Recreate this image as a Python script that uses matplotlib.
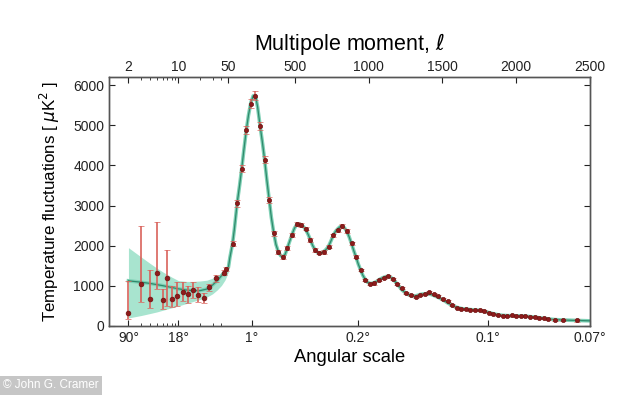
import numpy as np
import matplotlib
matplotlib.use("Agg")
import matplotlib.pyplot as plt

plt.rcParams['font.family'] = ['Liberation Sans', 'DejaVu Sans']
plt.rcParams['mathtext.fontset'] = 'dejavusans'

# low-ell points (unbinned), asymmetric errors
low_ell = [2, 3, 4, 5, 6, 7, 8, 9.5, 11.5, 13.5, 16, 19, 22.5, 26.5, 33.5, 43]
low_dl = [322, 1042, 680, 1315, 640, 1190, 660, 737, 855, 790, 905, 775, 690, 960, 1184, 1330]
low_err_lo = [150, 440, 240, 400, 220, 690, 196, 233, 223, 210, 200, 185, 130, 90, 80, 70]
low_err_hi = [800, 1450, 710, 1280, 280, 700, 340, 355, 233, 210, 200, 185, 130, 90, 80, 70]

# binned points
bin_ell = [47, 78, 109, 140, 171, 202, 233, 264, 295, 326,
           357, 388, 419, 450, 481, 512, 543, 574, 605, 636,
           667, 698, 729, 760, 791, 822, 853, 884, 915, 946,
           977, 1008, 1039, 1070, 1101, 1132, 1163, 1194, 1225, 1256,
           1287, 1318, 1349, 1380, 1411, 1442, 1473, 1504, 1535, 1566,
           1597, 1628, 1659, 1690, 1721, 1752, 1783, 1814, 1845, 1876,
           1907, 1938, 1969, 2000, 2031, 2062, 2093, 2124, 2155, 2186,
           2217, 2260, 2320, 2415]
bin_dl = [1420, 2052, 3052, 3913, 4871, 5533, 5732, 4970, 4144, 3134,
          2308, 1854, 1725, 1953, 2258, 2531, 2514, 2424, 2141, 1893,
          1829, 1844, 1978, 2258, 2382, 2489, 2365, 2060, 1730, 1397,
          1149, 1050, 1060, 1141, 1191, 1240, 1170, 1042, 935, 828,
          760, 720, 780, 785, 836, 795, 745, 683, 610, 525,
          460, 430, 413, 410, 400, 392, 368, 332, 300, 276,
          260, 255, 262, 255, 248, 246, 235, 220, 205, 190,
          162, 141, 158, 141]
bin_err = [60, 70, 80, 90, 100, 110, 110, 100, 90, 80,
           60, 50, 50, 50, 50, 50, 50, 45, 40, 40,
           40, 40, 40, 40, 40, 40, 40, 35, 35, 30,
           30, 30, 30, 30, 30, 30, 30, 30, 25, 25,
           25, 25, 25, 25, 25, 25, 25, 25, 25, 20,
           20, 20, 20, 20, 20, 20, 20, 20, 20, 20,
           20, 20, 20, 20, 20, 20, 20, 20, 20, 20,
           20, 25, 25, 30]

# best-fit model curve
model_ell = [2, 3, 4, 5, 6, 8, 10, 13, 16, 20, 25, 30, 35, 40, 45, 50, 60, 78, 90,
             109, 125, 140, 155, 171, 186, 202, 218, 233, 248, 264, 280, 295, 310,
             326, 341, 357, 372, 388, 404, 419, 435, 450, 466, 481, 497, 512, 528,
             543, 559, 574, 590, 605, 620, 636, 651, 667, 682, 698, 713, 729, 745,
             760, 775, 791, 806, 822, 837, 853, 868, 884, 899, 915, 930, 946, 961,
             977, 992, 1008, 1023, 1039, 1055, 1070, 1086, 1101, 1117, 1132, 1148,
             1163, 1179, 1194, 1210, 1225, 1241, 1256, 1272, 1287, 1303, 1318, 1334,
             1349, 1365, 1380, 1396, 1411, 1427, 1442, 1458, 1473, 1489, 1504, 1520,
             1535, 1551, 1566, 1582, 1597, 1628, 1659, 1690, 1721, 1752, 1783, 1814,
             1845, 1876, 1907, 1938, 1969, 2000, 2031, 2062, 2093, 2124, 2155, 2186,
             2217, 2260, 2320, 2415, 2500]
model_dl = [1125, 1090, 1060, 1030, 1005, 960, 925, 895, 880, 880, 920, 1020, 1130, 1250, 1360, 1460, 1700, 2052, 2400,
            3052, 3480, 3913, 4390, 4871, 5250, 5560, 5730, 5740, 5450, 5000, 4580, 4150, 3650,
            3150, 2700, 2320, 2030, 1850, 1750, 1720, 1790, 1950, 2120, 2280, 2430, 2520, 2545,
            2520, 2470, 2400, 2280, 2150, 2010, 1900, 1840, 1820, 1830, 1860, 1910, 1990, 2120,
            2250, 2350, 2420, 2470, 2480, 2440, 2350, 2220, 2050, 1880, 1710, 1540, 1390, 1260,
            1160, 1090, 1060, 1060, 1080, 1110, 1150, 1185, 1210, 1230, 1235, 1215,
            1170, 1110, 1040, 970, 900, 850, 810, 775, 755, 745, 750, 765,
            785, 795, 800, 800, 795, 780, 760, 735, 710, 680, 650, 610,
            575, 540, 510, 485, 465, 435, 418, 408, 400, 388, 365, 335,
            305, 280, 265, 258, 256, 254, 250, 244, 234, 220, 205, 190,
            175, 160, 148, 136, 128]

# cosmic variance band at low ell
band_ell = [2, 3, 4, 5, 6, 8, 10, 13, 16, 20, 25, 30, 35, 40, 45, 50, 60]
band_hi = [1950, 1720, 1560, 1440, 1350, 1220, 1130, 1110, 1110, 1120, 1140, 1190, 1240, 1300, 1380, 1500, 1720]
band_lo = [200, 260, 310, 350, 390, 450, 500, 560, 610, 660, 720, 800, 900, 1010, 1150, 1350, 1600]

top_ell = [2, 10, 50, 500, 1000, 1500, 2000, 2500]
top_labels = ['2', '10', '50', '500', '1000', '1500', '2000', '2500']
ang_ell = [2, 10, 208, 928, 1807, 2500]
ang_labels = ['90°', '18°', '1°', '0.2°', '0.1°', '0.07°']
minor_ell = [3, 4, 5, 6, 7, 8, 9, 20, 30, 40]


# log below ell=50, linear above (Planck style hybrid axis)
def fwd(x):
    x = np.asarray(x, dtype=float)
    lg = 71.5 * np.log10(np.clip(x, 1e-6, None) / 50.0)
    return np.where(x < 50, lg, 0.1476 * (x - 50))


def inv(u):
    u = np.asarray(u, dtype=float)
    return np.where(u < 0, 50.0 * 10 ** (np.minimum(u, 0) / 71.5), 50 + u / 0.1476)


fig = plt.figure(figsize=(6.35, 3.96), dpi=100)
ax = fig.add_axes([0.1717, 0.1768, 0.7575, 0.6288])
ax.set_xscale('function', functions=(fwd, inv))
ax.set_xlim(1.07, 2500)
ax.set_ylim(0, 6200)

ax.fill_between(band_ell, band_lo, band_hi, color='#a8e4cf', lw=0, zorder=1)
ax.plot(model_ell, model_dl, color='#7fd0b5', lw=2.6, zorder=2)
ax.plot(model_ell, model_dl, color='#2e8a6c', lw=0.9, zorder=2)

ax.errorbar(low_ell, low_dl, yerr=[low_err_lo, low_err_hi], fmt='o', ms=3.4,
            mew=0.5, color='#8e1b1b', mec='#6e1010', ecolor='#d9625b',
            elinewidth=1.2, capsize=2.5, capthick=0.9, zorder=3)
ax.errorbar(bin_ell, bin_dl, yerr=bin_err, fmt='o', ms=3.0,
            mew=0.5, color='#8e1b1b', mec='#6e1010', ecolor='#d9625b',
            elinewidth=1.1, capsize=2.2, capthick=0.9, zorder=3)

ax.set_xticks(ang_ell)
ax.set_xticklabels(ang_labels)
ax.set_xticks(minor_ell, minor=True)
ax.set_yticks([0, 1000, 2000, 3000, 4000, 5000, 6000])
ax.tick_params(which='both', direction='in', right=True, labelsize=10, colors='#222222')
ax.tick_params(which='major', length=4)
ax.tick_params(which='minor', length=2.5)
ax.set_xlabel('Angular scale', fontsize=13.2, labelpad=3)
ax.set_ylabel('Temperature fluctuations [ $\\mu$K$^2$ ]', fontsize=12.2, labelpad=8)

ax2 = ax.twiny()
ax2.set_xscale('function', functions=(fwd, inv))
ax2.set_xlim(ax.get_xlim())
ax2.set_xticks(top_ell)
ax2.set_xticklabels(top_labels)
ax2.set_xticks(minor_ell, minor=True)
ax2.tick_params(which='both', direction='in', labelsize=10, pad=2, colors='#222222')
ax2.tick_params(which='major', length=4)
ax2.tick_params(which='minor', length=2.5)
ax2.set_xlabel('Multipole moment, $\\ell$', fontsize=15.5, labelpad=7)

for a in (ax, ax2):
    for s in a.spines.values():
        s.set_color('#555555')
        s.set_linewidth(1.0)

fig.text(0.004, 0.027, '© John G. Cramer', color='white', fontsize=8.5,
         va='center', ha='left',
         bbox=dict(facecolor='#c6c6c6', edgecolor='none', pad=2.5))

fig.savefig('out.png', dpi=100)
